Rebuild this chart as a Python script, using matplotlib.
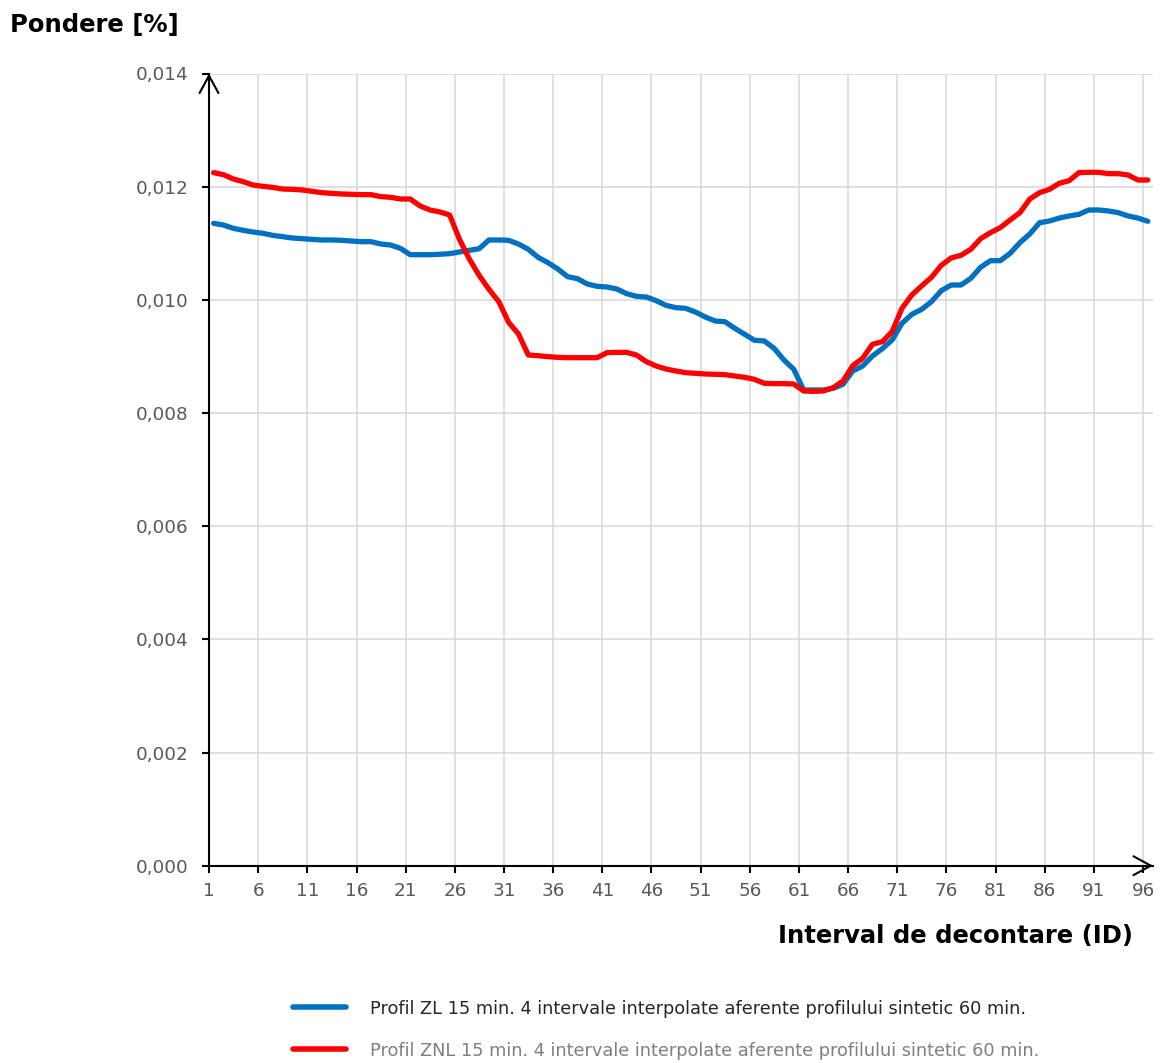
import numpy as np
import matplotlib
matplotlib.use("Agg")
import matplotlib.pyplot as plt
from matplotlib.ticker import FuncFormatter

# settlement intervals 1..96 (15 min each)
intervals = np.arange(1, 97)

profil_zl = [
    0.011352, 0.011323, 0.011264, 0.011229, 0.011199, 0.011176, 0.011140, 0.011117,
    0.011093, 0.011081, 0.011069, 0.011058, 0.011058, 0.011052, 0.011040, 0.011028,
    0.011028, 0.010987, 0.010969, 0.010910, 0.010798, 0.010798, 0.010798, 0.010805,
    0.010816, 0.010846, 0.010875, 0.010904, 0.011058, 0.011058, 0.011052, 0.010987,
    0.010893, 0.010751, 0.010657, 0.010545, 0.010410, 0.010374, 0.010280, 0.010239,
    0.010227, 0.010192, 0.010109, 0.010062, 0.010050, 0.009986, 0.009903, 0.009862,
    0.009850, 0.009785, 0.009697, 0.009626, 0.009614, 0.009497, 0.009391, 0.009285,
    0.009273, 0.009143, 0.008937, 0.008772, 0.008407, 0.008407, 0.008407, 0.008436,
    0.008507, 0.008743, 0.008831, 0.009008, 0.009137, 0.009290, 0.009585, 0.009744,
    0.009832, 0.009968, 0.010162, 0.010262, 0.010262, 0.010380, 0.010575, 0.010692,
    0.010692, 0.010822, 0.011011, 0.011164, 0.011364, 0.011393, 0.011446, 0.011482,
    0.011511, 0.011588, 0.011588, 0.011570, 0.011541, 0.011482, 0.011446, 0.011388,
]

profil_znl = [
    0.012248, 0.012212, 0.012136, 0.012089, 0.012030, 0.012006, 0.011988, 0.011959,
    0.011953, 0.011942, 0.011918, 0.011894, 0.011882, 0.011871, 0.011865, 0.011859,
    0.011859, 0.011824, 0.011812, 0.011782, 0.011782, 0.011659, 0.011588, 0.011553,
    0.011500, 0.011070, 0.010722, 0.010433, 0.010186, 0.009968, 0.009603, 0.009397,
    0.009025, 0.009013, 0.008996, 0.008984, 0.008978, 0.008978, 0.008978, 0.008978,
    0.009066, 0.009072, 0.009072, 0.009025, 0.008908, 0.008831, 0.008778, 0.008743,
    0.008713, 0.008701, 0.008690, 0.008684, 0.008678, 0.008654, 0.008631, 0.008595,
    0.008525, 0.008519, 0.008519, 0.008513, 0.008389, 0.008383, 0.008389, 0.008448,
    0.008566, 0.008837, 0.008967, 0.009214, 0.009261, 0.009438, 0.009850, 0.010086,
    0.010245, 0.010398, 0.010610, 0.010740, 0.010787, 0.010893, 0.011081, 0.011187,
    0.011276, 0.011411, 0.011541, 0.011782, 0.011894, 0.011953, 0.012059, 0.012106,
    0.012248, 0.012254, 0.012254, 0.012230, 0.012230, 0.012206, 0.012118, 0.012118,
]

x_ticks = np.arange(1, 97, 5)
y_ticks = np.arange(0, 0.0141, 0.002)

label_zl = "Profil ZL 15 min. 4 intervale interpolate aferente profilului sintetic 60 min."
label_znl = "Profil ZNL 15 min. 4 intervale interpolate aferente profilului sintetic 60 min."

plt.rcParams["font.family"] = ["DejaVu Sans"]

W, H = 1162, 1063
fig = plt.figure(figsize=(W / 100, H / 100), dpi=100)
ax = fig.add_axes([209 / W, 1 - 865.7 / H, (1153 - 209) / W, (865.7 - 73.5) / H])

# the source chart puts each point a bit right of its tick
shift = 0.47
ax.plot(intervals + shift, profil_zl, color="#0070C0", lw=3.8, solid_capstyle="round",
        solid_joinstyle="round", label=label_zl, zorder=3)
ax.plot(intervals + shift, profil_znl, color="#FF0000", lw=3.8, solid_capstyle="round",
        solid_joinstyle="round", label=label_znl, zorder=4)

ax.set_xlim(1, 97)
ax.set_ylim(0, 0.014)
ax.set_xticks(x_ticks)
ax.set_yticks(y_ticks)
ax.yaxis.set_major_formatter(FuncFormatter(lambda v, _: f"{v:.3f}".replace(".", ",")))

ax.grid(True, color="#D9D9D9", lw=1.2, zorder=0)
ax.set_axisbelow(True)
for side in ("top", "right"):
    ax.spines[side].set_visible(False)
for side in ("left", "bottom"):
    ax.spines[side].set_linewidth(1.5)
    ax.spines[side].set_color("black")

ax.tick_params(axis="both", direction="out", length=5, width=1.5, color="black",
               labelcolor="#595959", labelsize=13.2)
ax.tick_params(axis="x", pad=7)
ax.tick_params(axis="y", pad=10)

# open arrow heads at the ends of both axes
arrow = dict(arrowstyle="->,head_length=1.25,head_width=0.68", lw=1.5, color="black",
             shrinkA=0, shrinkB=0)
ax.annotate("", xy=(0, 1), xytext=(0, 0.995), xycoords="axes fraction",
            textcoords="axes fraction", arrowprops=arrow, annotation_clip=False)
ax.annotate("", xy=(1, 0), xytext=(0.995, 0), xycoords="axes fraction",
            textcoords="axes fraction", arrowprops=arrow, annotation_clip=False)

fig.text(10 / W, 1 - 25 / H, "Pondere [%]", fontsize=17.5, fontweight="bold",
         ha="left", va="center", color="black")
fig.text(1133 / W, 1 - 936 / H, "Interval de decontare (ID)", fontsize=17.5,
         fontweight="bold", ha="right", va="center", color="black")

leg = fig.legend(loc="center left", bbox_to_anchor=(293 / W, 1 - 1029.5 / H),
                 frameon=False, fontsize=12.8, handlelength=3.0, handletextpad=1.35,
                 labelspacing=1.35, borderpad=0, borderaxespad=0)
for line in leg.get_lines():
    line.set_linewidth(4)
    line.set_solid_capstyle("round")
leg.get_texts()[0].set_color("#262626")
leg.get_texts()[1].set_color("#7F7F7F")

fig.savefig("out.png", dpi=100)
